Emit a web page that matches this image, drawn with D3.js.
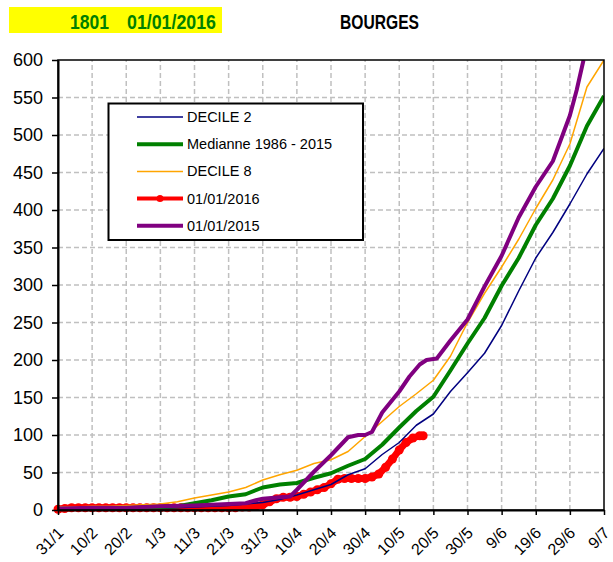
<!DOCTYPE html>
<html>
<head>
<meta charset="utf-8">
<script src="https://cdn.jsdelivr.net/npm/d3@7"></script>
<style>
body { margin: 0; background: #fff; }
text { font-family: "Liberation Sans", Arial, sans-serif; }
</style>
</head>
<body>
<script>
// x positions are days after 31/1 (2016 calendar)
var xLabels = ["31/1", "10/2", "20/2", "1/3", "11/3", "21/3", "31/3", "10/4", "20/4",
  "30/4", "10/5", "20/5", "30/5", "9/6", "19/6", "29/6", "9/7"];
var xTicks = d3.range(0, 161, 10);
var yTicks = d3.range(0, 601, 50);

var days = d3.range(0, 161, 5);
var decile2 = [1, 1, 1, 1, 1, 2, 2, 3, 4, 5, 6, 8, 10, 14, 20, 27, 34, 47, 55, 74, 90, 113, 128, 158, 183, 209, 246, 292, 336, 370, 408, 448, 482];
var mediane = [2, 2, 2, 2, 3, 3, 4, 5, 9, 13, 18, 21, 30, 34, 36, 43, 49, 59, 68, 87, 110, 132, 151, 186, 222, 256, 299, 336, 380, 415, 459, 512, 552];
var decile8 = [4, 4, 5, 5, 6, 7, 8, 11, 16, 20, 24, 30, 40, 47, 53, 62, 67, 78, 98, 118, 138, 155, 173, 205, 250, 289, 324, 361, 402, 440, 488, 564, 600];

var days2015 = [0, 10, 20, 30, 40, 50, 55, 58, 60, 65, 68, 70, 75, 80, 85, 88, 90, 92, 95, 100, 103, 106, 108, 111, 115, 120, 125, 130, 135, 140, 145, 150, 152, 154];
var year2015 = [2, 3, 3, 5, 6, 8, 9, 13, 15, 17, 18, 27, 51, 73, 97, 100, 100, 104, 130, 158, 178, 194, 200, 202, 226, 254, 298, 339, 390, 431, 465, 526, 560, 600];

var days2016 = d3.range(0, 107, 2).concat([107]);
var year2016 = [1, 2, 3, 3, 3, 3, 3, 3, 3, 3, 3, 3, 3, 3, 3, 3, 3, 3, 3, 3, 3, 3, 3, 3, 3, 3, 3, 4,
  4, 5, 7, 11, 15, 17, 17, 18, 21, 24, 27, 30, 35, 41, 42, 42, 42, 42, 44, 48, 57, 68, 80, 90, 96, 99, 99];

var series = [
  {name: "01/01/2016", x: days2016, v: year2016, color: "#ff0000", width: 7, marker: true},
  {name: "DECILE 2", x: days, v: decile2, color: "#000080", width: 1.5},
  {name: "Medianne 1986 - 2015", x: days, v: mediane, color: "#008000", width: 4},
  {name: "DECILE 8", x: days, v: decile8, color: "#ffa500", width: 1.5},
  {name: "01/01/2015", x: days2015, v: year2015, color: "#800080", width: 4}
];
var legendOrder = ["DECILE 2", "Medianne 1986 - 2015", "DECILE 8", "01/01/2016", "01/01/2015"];

var width = 613, height = 562;
var svg = d3.select("body").append("svg")
  .attr("width", width)
  .attr("height", height);

var x = d3.scaleLinear().domain([0, 160]).range([58, 604]);
var y = d3.scaleLinear().domain([0, 600]).range([510, 60]);

// titre
svg.append("rect").attr("x", 9).attr("y", 7).attr("width", 213).attr("height", 26).attr("fill", "#ffff00");
svg.append("text").attr("x", 70).attr("y", 29).attr("font-size", 20).attr("font-weight", "bold")
  .attr("fill", "#008000").attr("textLength", 39).attr("lengthAdjust", "spacingAndGlyphs").text("1801");
svg.append("text").attr("x", 127).attr("y", 29).attr("font-size", 20).attr("font-weight", "bold")
  .attr("fill", "#008000").attr("textLength", 89).attr("lengthAdjust", "spacingAndGlyphs").text("01/01/2016");
svg.append("text").attr("x", 340).attr("y", 29).attr("font-size", 20).attr("font-weight", "bold")
  .attr("fill", "#000").attr("textLength", 79).attr("lengthAdjust", "spacingAndGlyphs").text("BOURGES");

// grille
var grid = svg.append("g").attr("stroke", "#c0c0c0").attr("stroke-width", 1.5).attr("stroke-dasharray", "5,3");
grid.selectAll(".h").data(yTicks.slice(1, -1)).enter().append("line")
  .attr("x1", x(0)).attr("x2", x(160)).attr("y1", function(d) { return y(d); }).attr("y2", function(d) { return y(d); });
grid.selectAll(".v").data(xTicks.slice(1, -1)).enter().append("line")
  .attr("y1", y(0)).attr("y2", y(600)).attr("x1", function(d) { return x(d); }).attr("x2", function(d) { return x(d); });

svg.append("clipPath").attr("id", "plot").append("rect")
  .attr("x", x(0) - 6).attr("y", y(600)).attr("width", x(160) - x(0) + 6).attr("height", y(0) - y(600) + 6);

var plot = svg.append("g").attr("clip-path", "url(#plot)");
var line = d3.line();

series.forEach(function(s) {
  var pts = s.x.map(function(d, i) { return [x(d), y(s.v[i])]; });
  plot.append("path")
    .attr("d", line(pts))
    .attr("fill", "none")
    .attr("stroke", s.color)
    .attr("stroke-width", s.width)
    .attr("stroke-linejoin", "round");
  if (s.marker) {
    plot.selectAll(".m").data(pts).enter().append("circle")
      .attr("cx", function(p) { return p[0]; })
      .attr("cy", function(p) { return p[1]; })
      .attr("r", 4.5)
      .attr("fill", s.color);
  }
});

// cadre
svg.append("rect").attr("x", x(0)).attr("y", y(600)).attr("width", x(160) - x(0)).attr("height", y(0) - y(600))
  .attr("fill", "none").attr("stroke", "#000").attr("stroke-width", 1.5);

var yAxis = d3.axisLeft(y).tickValues(yTicks).tickSize(6).tickSizeOuter(0).tickPadding(9);
var gy = svg.append("g").attr("transform", "translate(" + x(0) + ",0)").call(yAxis);
gy.select(".domain").attr("stroke-width", 2);
gy.selectAll("line").attr("stroke-width", 1.5);
gy.selectAll("text").attr("font-size", 18).attr("fill", "#000").attr("font-family", null);

var xAxis = d3.axisBottom(x).tickValues(xTicks).tickSize(5).tickSizeOuter(0)
  .tickFormat(function(d, i) { return xLabels[i]; });
var gx = svg.append("g").attr("transform", "translate(0," + y(0) + ")").call(xAxis);
gx.select(".domain").attr("stroke-width", 2);
gx.selectAll("line").attr("stroke-width", 1.5);
gx.selectAll("text")
  .attr("font-size", 16).attr("fill", "#000").attr("font-family", null)
  .attr("text-anchor", "end")
  .attr("y", 0).attr("dy", 0)
  .attr("transform", "translate(6,24) rotate(-45)");

// légende
var leg = svg.append("g");
leg.append("rect").attr("x", 108.5).attr("y", 103.5).attr("width", 254.5).attr("height", 136.5)
  .attr("fill", "#fff").attr("stroke", "#000").attr("stroke-width", 2);
legendOrder.forEach(function(name, i) {
  var s = series.find(function(t) { return t.name === name; });
  var ly = 117 + i * 27.2;
  leg.append("line").attr("x1", 137).attr("x2", 183).attr("y1", ly).attr("y2", ly)
    .attr("stroke", s.color).attr("stroke-width", s.marker ? 4 : s.width);
  if (s.marker) leg.append("circle").attr("cx", 160).attr("cy", ly).attr("r", 3.5).attr("fill", s.color);
  leg.append("text").attr("x", 187).attr("y", ly).attr("dy", "0.35em").attr("font-size", 14.5).text(name);
});
</script>
</body>
</html>
